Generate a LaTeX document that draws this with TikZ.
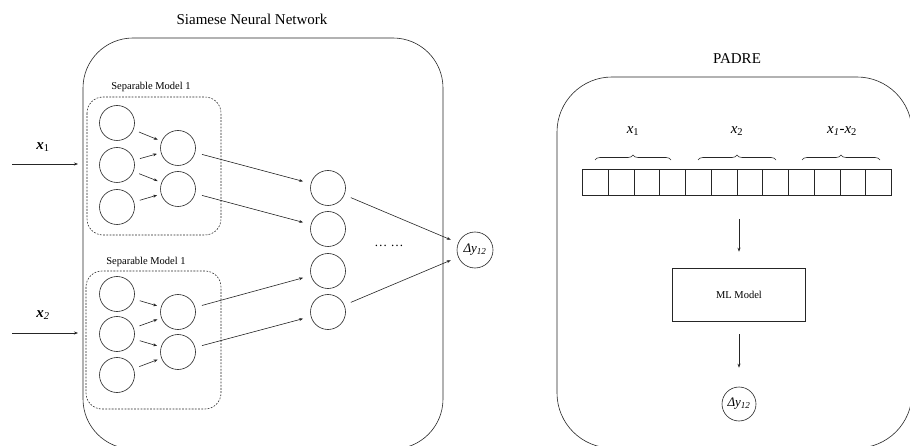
\documentclass[tikz,border=0pt]{standalone}
\usepackage{fontspec}
\setmainfont{Liberation Serif}
\usetikzlibrary{arrows.meta,decorations.pathreplacing}

\newcommand\bvec[1]{\textbf{\textit{x}}\textsubscript{#1}}
\newcommand\ivec[1]{\textit{x}\textsubscript{#1}}
\newcommand\dyt{\textit{Δy}\textsubscript{\textit{12}}}

\tikzset{
  ln/.style={draw=black!85, line width=0.6pt},
  neuron/.style={ln, circle, minimum size=35pt, inner sep=0pt},
  outnode/.style={ln, circle, minimum size=36pt, inner sep=0pt, font=\fontsize{13}{14}\selectfont},
  arr/.style={ln, -{Stealth[length=4pt,width=3pt]}},
  panel/.style={ln, rounded corners=50pt},
  sepbox/.style={draw=black!85, line width=0.55pt, dash pattern=on 1.8pt off 1.4pt, rounded corners=16pt},
  cell/.style={ln, minimum width=25.75pt, minimum height=26pt, inner sep=0pt, anchor=north west},
  lbl/.style={font=\fontsize{10.5}{12}\selectfont},
  ttl/.style={font=\fontsize{15}{18}\selectfont},
  var/.style={font=\fontsize{15}{18}\selectfont},
  brc/.style={ln, decorate, decoration={brace, amplitude=5pt}}
}

\begin{document}
\begin{tikzpicture}[x=1pt, y=-1pt]
\useasboundingbox (0,0) rectangle (910,446);
\clip (0,0) rectangle (910,446);
\fill[white] (0,0) rectangle (910,446);

% ---------------- Siamese network ----------------
\node[ttl] (siamtitle) at (252,19) {Siamese Neural Network};
\draw[panel] (83,38) rectangle (443,449);

% two separable sub-models
\node[lbl] (sm1lbl) at (151,87) {Separable Model 1};
\draw[sepbox] (87,97) rectangle (221,235);
\node[lbl] (sm2lbl) at (146,262) {Separable Model 1};
\draw[sepbox] (86,271) rectangle (221,409);

% first sub-model
\node[neuron] (a1) at (117,123) {};
\node[neuron] (a2) at (117,165) {};
\node[neuron] (a3) at (117,207) {};
\node[neuron] (b1) at (178,148) {};
\node[neuron] (b2) at (178,189) {};
% second sub-model
\node[neuron] (c1) at (117,294) {};
\node[neuron] (c2) at (117,334) {};
\node[neuron] (c3) at (117,375) {};
\node[neuron] (d1) at (178,312) {};
\node[neuron] (d2) at (178,352) {};
% shared layer
\node[neuron] (m1) at (328,188) {};
\node[neuron] (m2) at (328,229) {};
\node[neuron] (m3) at (328,271) {};
\node[neuron] (m4) at (328,312) {};
% output
\node[outnode] (dy1) at (475,250) {\dyt};
\node[font=\fontsize{13}{14}\selectfont] (dots) at (389,246) {… …};

% inputs
\coordinate (in1) at (12,164);
\coordinate (in2) at (12,333);
\coordinate (tip1) at (78,164);
\coordinate (tip2) at (78,333);
\draw[arr] (in1) -- (tip1);
\draw[arr] (in2) -- (tip2);
\node[var] (x1l) at (43,147) {\bvec{1}};
\node[var] (x2l) at (43,315) {\bvec{\textit{2}}};

% connections inside the sub-models
\foreach \s/\t in {a1/b1, a2/b1, a2/b2, a3/b2, c1/d1, c2/d1, c2/d2, c3/d2}
  \draw[arr, shorten <=6pt, shorten >=4pt] (\s) -- (\t);
% sub-models to shared layer
\foreach \s/\t in {b1/m1, b2/m2, d1/m3, d2/m4}
  \draw[arr, shorten <=7pt, shorten >=8pt] (\s) -- (\t);
% shared layer to output
\draw[arr, shorten <=7pt, shorten >=8pt] (m1) -- (dy1);
\draw[arr, shorten <=7pt, shorten >=8pt] (m4) -- (dy1);

% ---------------- PADRE ----------------
\node[ttl] (padretitle) at (737,59) {PADRE};
\draw[panel, rounded corners=55pt] (557,77) rectangle (912,448);

% concatenated feature vector
\foreach \i in {0,...,11}
  \node[cell] (v\i) at ({582+25.75*\i},169) {};

% braces over the three parts
\draw[brc] (595,160) -- (671,160) coordinate[midway] (br1);
\draw[brc] (698,160) -- (776,160) coordinate[midway] (br2);
\draw[brc] (802,160) -- (880,160) coordinate[midway] (br3);
\node[var] (p1) at (633,131) {\ivec{1}};
\node[var] (p2) at (737,131) {\ivec{2}};
\node[var] (p3) at (842,131) {\ivec{\textit{1}}-\ivec{2}};

% model and output
\node[ln, minimum width=133pt, minimum height=53pt, inner sep=0pt, lbl] (ml) at (739,294.5) {ML Model};
\node[outnode, minimum size=34pt] (dy2) at (739,404) {\dyt};
\coordinate (vecout) at (739,219);
\draw[arr, shorten >=16pt] (vecout) -- (ml.north);
\draw[arr, shorten <=13pt, shorten >=19pt] (ml.south) -- (dy2.north);
\end{tikzpicture}
\end{document}
